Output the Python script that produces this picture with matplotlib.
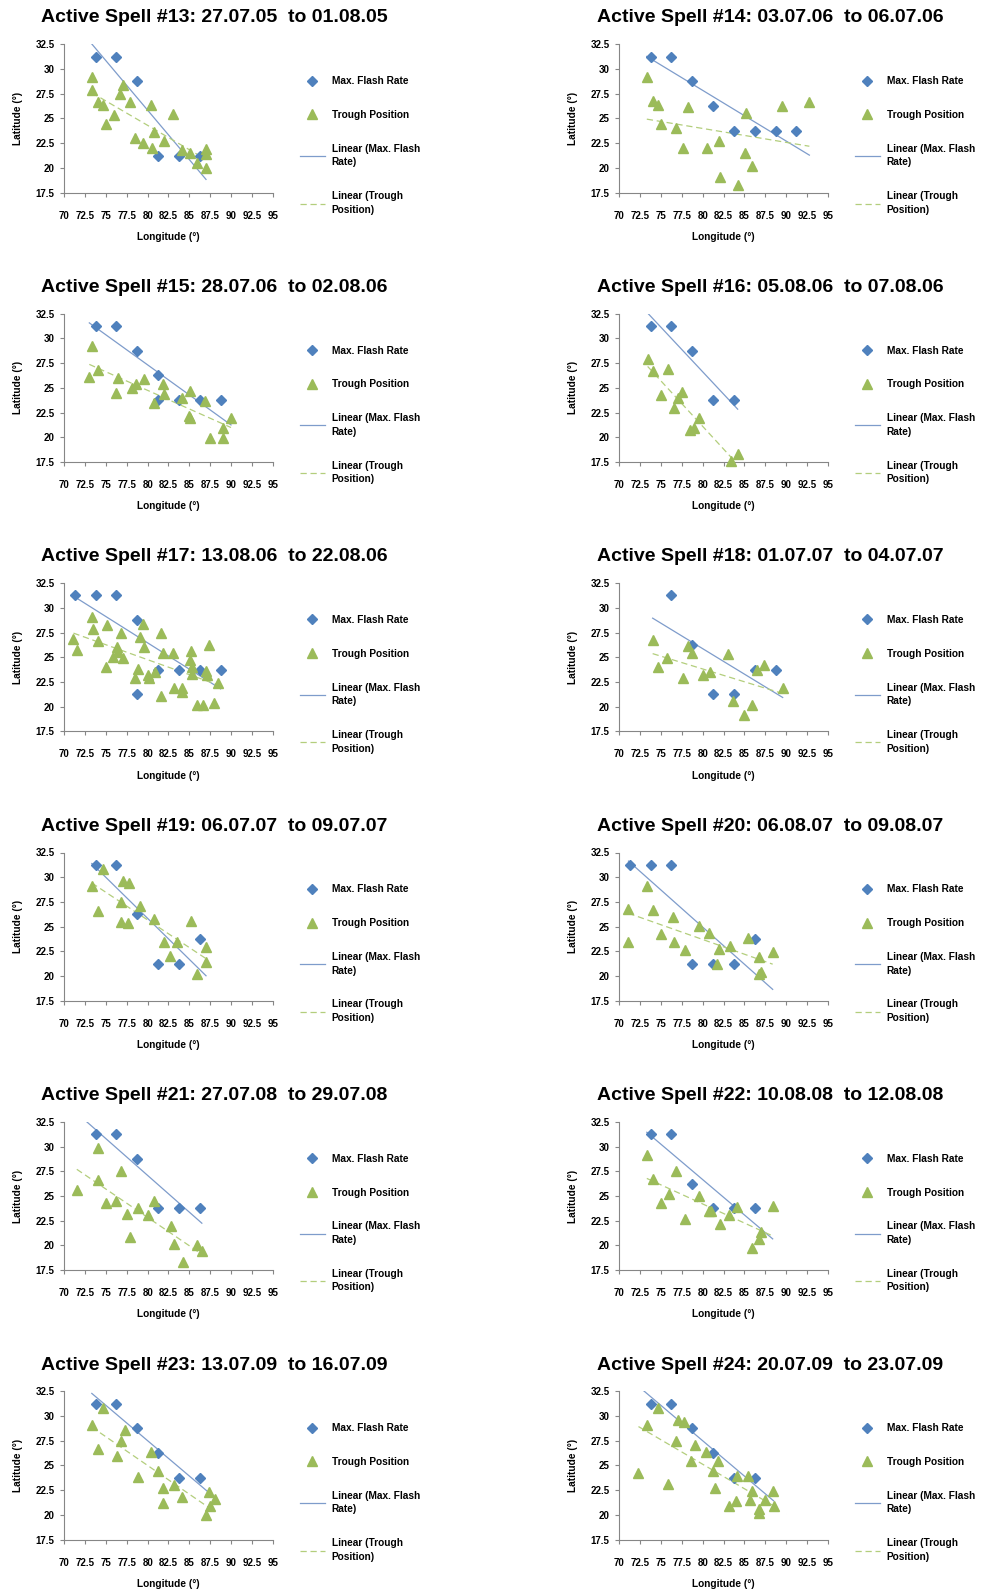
import numpy as np
import matplotlib
matplotlib.use('Agg')
import matplotlib.pyplot as plt

plt.rcParams['font.family'] = ['Liberation Sans', 'DejaVu Sans']
plt.rcParams['font.weight'] = 'bold'

spell_ids = [13, 14, 15, 16, 17, 18, 19, 20, 21, 22, 23, 24]
start_dates = ['27.07.05', '03.07.06', '28.07.06', '05.08.06', '13.08.06', '01.07.07',
               '06.07.07', '06.08.07', '27.07.08', '10.08.08', '13.07.09', '20.07.09']
end_dates = ['01.08.05', '06.07.06', '02.08.06', '07.08.06', '22.08.06', '04.07.07',
             '09.07.07', '09.08.07', '29.07.08', '12.08.08', '16.07.09', '23.07.09']

flash_lon = [
    [73.75, 76.25, 78.75, 81.25, 83.75, 86.25],
    [73.75, 76.25, 78.75, 81.25, 83.75, 86.25, 88.75, 91.25],
    [73.75, 76.25, 78.75, 81.25, 81.25, 83.75, 86.25, 88.75],
    [73.75, 76.25, 78.75, 81.25, 83.75],
    [71.25, 73.75, 76.25, 78.75, 78.75, 81.25, 83.75, 86.25, 88.75],
    [76.25, 78.75, 81.25, 83.75, 86.25, 88.75],
    [73.75, 76.25, 78.75, 81.25, 83.75, 86.25],
    [71.25, 73.75, 76.25, 78.75, 81.25, 83.75, 86.25],
    [73.75, 76.25, 78.75, 81.25, 83.75, 86.25],
    [73.75, 76.25, 78.75, 81.25, 83.75, 86.25],
    [73.75, 76.25, 78.75, 81.25, 83.75, 86.25],
    [73.75, 76.25, 78.75, 81.25, 83.75, 86.25],
]
flash_lat = [
    [31.25, 31.25, 28.75, 21.25, 21.25, 21.25],
    [31.25, 31.25, 28.75, 26.25, 23.75, 23.75, 23.75, 23.75],
    [31.25, 31.25, 28.75, 26.25, 23.75, 23.75, 23.75, 23.75],
    [31.25, 31.25, 28.75, 23.75, 23.75],
    [31.25, 31.25, 31.25, 28.75, 21.25, 23.75, 23.75, 23.75, 23.75],
    [31.25, 26.25, 21.25, 21.25, 23.75, 23.75],
    [31.25, 31.25, 26.25, 21.25, 21.25, 23.75],
    [31.25, 31.25, 31.25, 21.25, 21.25, 21.25, 23.75],
    [31.25, 31.25, 28.75, 23.75, 23.75, 23.75],
    [31.25, 31.25, 26.25, 23.75, 23.75, 23.75],
    [31.25, 31.25, 28.75, 26.25, 23.75, 23.75],
    [31.25, 31.25, 28.75, 26.25, 23.75, 23.75],
]

trough_lon = [
    [73.3, 73.3, 74.0, 74.7, 75.0, 76.0, 76.7, 77.1, 77.9, 78.5, 79.5, 80.4, 80.5, 80.8, 82.0,
     83.0, 84.1, 85.1, 85.9, 87.0, 87.0, 87.0],
    [73.3, 74.1, 74.7, 75.0, 76.8, 77.6, 78.3, 80.5, 82.0, 82.1, 84.2, 85.1, 85.2, 85.9, 89.5, 92.8],
    [73.0, 73.3, 74.1, 76.2, 76.4, 78.1, 78.6, 79.6, 80.8, 81.9, 82.0, 84.1, 84.9, 85.1, 85.1,
     86.9, 87.5, 89.0, 89.0, 90.0],
    [73.4, 74.1, 75.0, 75.9, 76.6, 77.1, 77.5, 78.5, 79.0, 79.6, 83.4, 84.2],
    [71.1, 71.5, 73.3, 73.4, 74.1, 75.1, 75.0, 75.9, 76.3, 76.5, 76.8, 77.1, 78.5, 78.9, 79.1,
     79.5, 79.6, 80.0, 80.2, 80.9, 81.6, 81.6, 81.9, 83.0, 83.1, 84.1, 84.1, 85.2, 85.1, 85.3,
     85.3, 85.9, 86.6, 87.0, 87.1, 87.3, 88.0, 88.4],
    [74.0, 74.7, 75.7, 77.6, 78.3, 78.7, 80.0, 80.9, 83.0, 83.6, 84.9, 85.9, 86.5, 87.4, 89.6],
    [73.3, 74.1, 74.7, 77.1, 77.8, 76.8, 76.8, 77.6, 79.1, 80.8, 82.0, 82.7, 83.5, 85.2, 85.9,
     87.0, 87.0],
    [71.1, 71.1, 73.3, 74.0, 75.0, 76.4, 76.6, 77.9, 79.6, 80.8, 81.7, 82.0, 83.3, 85.4, 86.8,
     86.8, 87.0, 88.4],
    [71.5, 74.0, 74.1, 75.0, 76.2, 76.8, 77.5, 77.9, 78.9, 80.0, 80.8, 82.8, 83.2, 84.2, 85.9, 86.5],
    [73.3, 74.1, 75.0, 76.0, 76.8, 77.9, 79.6, 80.8, 81.0, 82.1, 83.2, 84.1, 85.9, 86.8, 87.0, 88.4],
    [73.3, 74.7, 74.1, 76.3, 76.8, 77.3, 78.8, 80.4, 81.3, 81.9, 81.9, 83.2, 84.1, 87.0, 87.3,
     87.5, 88.1],
    [72.3, 73.3, 74.7, 75.9, 76.8, 77.1, 77.8, 78.6, 79.1, 80.4, 81.3, 81.5, 81.9, 83.1, 84.0,
     84.1, 85.4, 85.9, 85.7, 86.8, 86.8, 87.5, 88.4, 88.5],
]
trough_lat = [
    [29.2, 27.9, 26.7, 26.4, 24.4, 25.3, 27.5, 28.4, 26.7, 23.0, 22.5, 26.4, 22.0, 23.6, 22.7,
     25.4, 21.8, 21.5, 20.5, 21.9, 21.4, 20.0],
    [29.2, 26.8, 26.4, 24.4, 24.0, 22.0, 26.2, 22.0, 22.7, 19.1, 18.3, 21.5, 25.6, 20.2, 26.3, 26.7],
    [26.1, 29.2, 26.8, 24.5, 26.0, 25.0, 25.4, 25.9, 23.5, 25.4, 24.4, 24.0, 22.2, 22.0, 24.7,
     23.7, 19.9, 20.9, 19.9, 22.0],
    [27.9, 26.7, 24.3, 26.9, 23.0, 24.0, 24.6, 20.7, 20.9, 22.0, 17.6, 18.3],
    [26.8, 25.7, 29.1, 27.9, 26.6, 28.3, 24.0, 25.0, 26.0, 25.5, 27.5, 24.9, 22.9, 23.8, 27.0,
     28.4, 26.0, 23.2, 22.9, 23.5, 27.5, 21.1, 25.4, 25.4, 21.9, 21.9, 21.5, 25.6, 24.7, 24.0,
     23.3, 20.2, 20.2, 23.6, 23.2, 26.2, 20.4, 22.4],
    [26.7, 24.0, 24.9, 22.9, 26.1, 25.4, 23.2, 23.5, 25.3, 20.6, 19.2, 20.2, 23.75, 24.2, 21.9],
    [29.1, 26.6, 30.8, 29.6, 29.4, 27.5, 25.5, 25.4, 27.1, 25.8, 23.4, 22.0, 23.4, 25.6, 20.2,
     22.9, 21.4],
    [26.8, 23.4, 29.1, 26.7, 24.3, 26.0, 23.4, 22.6, 25.1, 24.4, 21.2, 22.7, 23.0, 23.9, 21.9,
     20.2, 20.4, 22.4],
    [25.6, 29.9, 26.6, 24.3, 24.5, 27.5, 23.2, 20.9, 23.8, 23.1, 24.5, 22.0, 20.2, 18.3, 20.0, 19.4],
    [29.2, 26.7, 24.3, 25.2, 27.5, 22.7, 25.0, 23.5, 23.5, 22.2, 23.1, 23.9, 19.7, 20.7, 21.4, 24.0],
    [29.1, 30.8, 26.7, 26.0, 27.5, 28.6, 23.8, 26.4, 24.4, 22.7, 21.2, 23.0, 21.8, 20.0, 22.3,
     20.9, 21.6],
    [24.2, 29.1, 30.8, 23.1, 27.5, 29.6, 29.4, 25.4, 27.1, 26.4, 24.4, 22.7, 25.4, 20.9, 21.4,
     23.9, 23.9, 22.4, 21.5, 20.6, 20.2, 21.5, 22.4, 20.9],
]

x_ticks = [70, 72.5, 75, 77.5, 80, 82.5, 85, 87.5, 90, 92.5, 95]
y_ticks = [17.5, 20, 22.5, 25, 27.5, 30, 32.5]

blue = '#4F81BD'
green = '#9BBB59'
blue_fit = '#7E9CCB'
green_fit = '#B3CE7C'
axis_grey = '#868686'

W, H = 982, 1594
fig = plt.figure(figsize=(W / 100, H / 100), dpi=100)

for i, sid in enumerate(spell_ids):
    row, col = i // 2, i % 2
    ax_left = 64.3 if col == 0 else 619.3
    ax_top = 44.3 + 269.4 * row
    ax = fig.add_axes([ax_left / W, 1 - (ax_top + 148.3) / H, 208.4 / W, 148.3 / H])

    fx = np.array(flash_lon[i])
    fy = np.array(flash_lat[i])
    tx = np.array(trough_lon[i])
    ty = np.array(trough_lat[i])

    ax.plot(fx, fy, 'D', color=blue, ms=5.5, mec=blue, clip_on=False, zorder=3,
            label='Max. Flash Rate')
    ax.plot(tx, ty, '^', color=green, ms=7.5, mec=green, clip_on=False, zorder=3,
            label='Trough Position')

    # linear trendlines across the full longitude range of the spell
    xs = np.linspace(min(fx.min(), tx.min()), max(fx.max(), tx.max()), 50)
    pf = np.polyfit(fx, fy, 1)
    pt = np.polyfit(tx, ty, 1)
    ax.plot(xs, np.polyval(pf, xs), '-', color=blue_fit, lw=0.9, zorder=2,
            label='Linear (Max. Flash\nRate)')
    ax.plot(xs, np.polyval(pt, xs), '--', color=green_fit, lw=0.9, dashes=(5, 3), zorder=2,
            label='Linear (Trough\nPosition)')

    ax.set_xlim(70, 95)
    ax.set_ylim(17.5, 32.5)
    ax.set_xticks(x_ticks)
    ax.set_yticks(y_ticks)
    ax.set_xticklabels([f'{t:g}' for t in x_ticks])
    ax.set_yticklabels([f'{t:g}' for t in y_ticks])
    ax.spines['top'].set_visible(False)
    ax.spines['right'].set_visible(False)
    for s in ['left', 'bottom']:
        ax.spines[s].set_color(axis_grey)
        ax.spines[s].set_linewidth(0.8)
    ax.tick_params(axis='x', length=3, color=axis_grey, labelsize=7, pad=10)
    ax.tick_params(axis='y', length=3, color=axis_grey, labelsize=7, pad=4)
    ax.set_facecolor('none')

    ax.set_xlabel('Longitude (°)', fontsize=7.3, fontweight='bold', labelpad=8)
    ax.set_ylabel('Latitude (°)', fontsize=7.3, fontweight='bold', labelpad=9)

    leg = ax.legend(loc='upper left', bbox_to_anchor=(1.13, 0.785), frameon=False,
                    fontsize=7.3, labelspacing=2.35, handlelength=2.5, handletextpad=0.65,
                    borderaxespad=0, borderpad=0)
    for t in leg.get_texts():
        t.set_linespacing(1.45)

    title_x = 214 if col == 0 else 770
    fig.text(title_x / W, 1 - (18 + 269.4 * row) / H,
             f'Active Spell #{sid}: {start_dates[i]}  to {end_dates[i]}',
             ha='center', va='center', fontsize=14, fontweight='bold')

fig.savefig('out.png', dpi=100)
